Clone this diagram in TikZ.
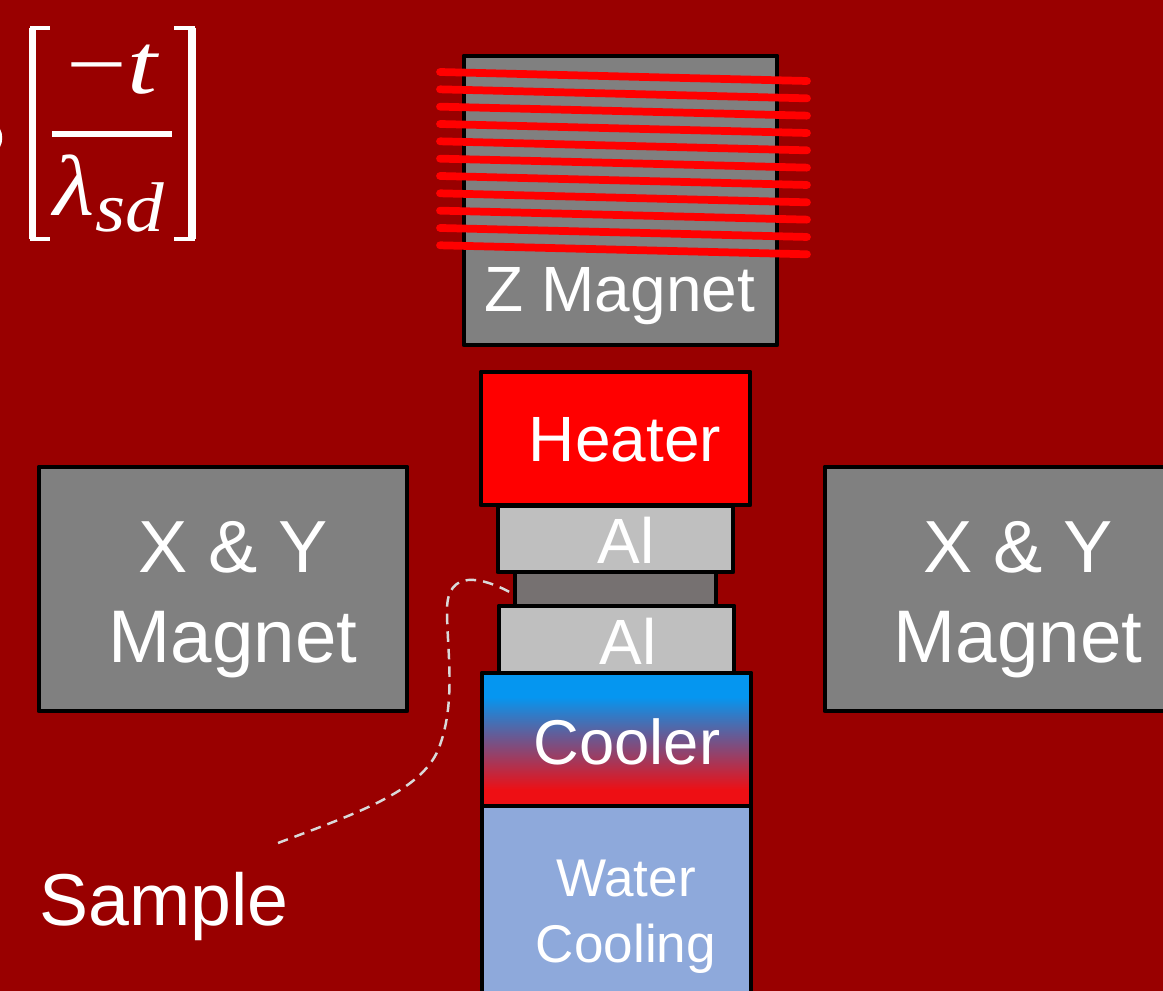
\documentclass[tikz,border=0pt]{standalone}
\usepackage{fontspec}
\setmainfont{Liberation Sans}
\newfontfamily\formulafont{Liberation Serif}
\usetikzlibrary{positioning}
\definecolor{bgred}{RGB}{153,0,0}
\definecolor{alugray}{RGB}{191,191,191}
\definecolor{magnetgray}{RGB}{128,128,128}
\definecolor{samplegray}{RGB}{118,113,113}
\definecolor{waterblue}{RGB}{142,169,219}
\definecolor{coolblue}{RGB}{5,150,240}
\definecolor{coolmid}{RGB}{112,85,140}
\definecolor{coolred}{RGB}{238,15,20}
\pgfdeclareverticalshading{coolshade}{100bp}{color(0bp)=(coolred); color(31bp)=(coolred); color(50bp)=(coolmid); color(66bp)=(coolblue); color(100bp)=(coolblue)}
\tikzset{
  layer/.style={draw=black, line width=1.4pt, line join=round},
  coil/.style={red, line width=2.2pt, line cap=round},
  txt/.style={white, anchor=base, inner sep=0pt, align=center},
  bracket/.style={white, line width=1.1pt},
  mathtxt/.style={white, anchor=base, inner sep=0pt, font=\formulafont\fontsize{24.5}{28}\selectfont}
}
\begin{document}
\begin{tikzpicture}[x=0.01cm, y=-0.01cm]
\useasboundingbox (0,0) rectangle (1163,991);
\clip (0,0) rectangle (1163,991);
\fill [bgred] (0,0) rectangle (1163,991);

% cut off end of the formula
\fill [white] (0,129) .. controls (3,134) and (3,142) .. (0,147) -- cycle;

\draw [white, line width=2pt] (32.5,28) -- (32.5,239);
\draw [bracket] (30,28) -- (50,28);
\draw [bracket] (30,239) -- (50,239);
\draw [white, line width=2pt] (192,28) -- (192,239);
\draw [bracket] (174,28) -- (195,28);
\draw [bracket] (174,239) -- (195,239);
\draw [white, line width=1.7pt] (52,134) -- (172,134);

\node [mathtxt, xscale=1.25] (numer) at (113,94) {−\textit{t}};
\node [mathtxt, xscale=1.1] (denom) at (109,216) {\textit{λ}\raisebox{-4.5pt}{\fontsize{20}{24}\selectfont\textit{sd}}};

% magnets
\draw [layer, fill=magnetgray] (464,56) rectangle (777,345);
\foreach \i in {0,...,10}
  \draw [coil] (440,72+17.33*\i) -- (807,81+17.33*\i);
\node [txt, font=\fontsize{18.2}{22}\selectfont] (zmag) at (620,312) {Z Magnet};

\draw [layer, fill=magnetgray] (39,467) rectangle (407,711);
\node [txt, font=\fontsize{21}{26}\selectfont] (xleft) at (233,572) {X \& Y};
\node [txt, font=\fontsize{21.2}{26}\selectfont] (yleft) at (233,662) {Magnet};

\draw [layer, fill=magnetgray] (825,467) rectangle (1175,711);
\node [txt, font=\fontsize{21}{26}\selectfont] (xright) at (1018,572) {X \& Y};
\node [txt, font=\fontsize{21.2}{26}\selectfont] (yright) at (1018,662) {Magnet};

% stack
\draw [layer, fill=red] (481,372) rectangle (750,505);
\node [txt, font=\fontsize{18.2}{22}\selectfont] (heater) at (625,462) {Heater};

\draw [layer, fill=samplegray] (515,572) rectangle (716,606);
\draw [layer, fill=alugray] (498,506) rectangle (733,572);
\node [txt, font=\fontsize{18.2}{22}\selectfont] (altop) at (626,563) {Al};

\draw [layer, fill=alugray] (499,606) rectangle (734,675);
\node [txt, font=\fontsize{18.2}{22}\selectfont] (albot) at (628,664) {Al};

\draw [layer, fill=waterblue] (482,806) rectangle (751,1010);
\node [txt, font=\fontsize{15.1}{18}\selectfont] (water) at (626,896) {Water};
\node [txt, font=\fontsize{15.1}{18}\selectfont] (cooling) at (626,962) {Cooling};

\shade [shading=coolshade] (482,673) rectangle (751,806);
\draw [layer] (482,673) rectangle (751,806);
\node [txt, font=\fontsize{18}{22}\selectfont] (cooler) at (627,764) {Cooler};

% sample label
\node [txt, font=\fontsize{20.9}{26}\selectfont] (sample) at (164,925) {Sample};
\coordinate (leadstart) at (278,843);
\coordinate (leadend) at (515,595);
\draw [white!85!black, line width=0.7pt, dash pattern=on 3pt off 2pt] (leadstart) .. controls (360,812) and (425,790) .. (440,745) .. controls (456,700) and (447,650) .. (447,610) .. controls (447,570) and (480,575) .. (leadend);
\end{tikzpicture}
\end{document}
